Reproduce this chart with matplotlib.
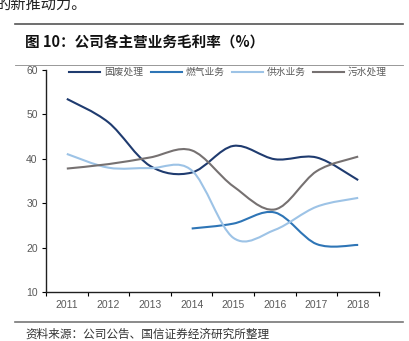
import matplotlib
matplotlib.use('Agg')
import matplotlib.pyplot as plt
from matplotlib.path import Path
from matplotlib.patches import PathPatch
from matplotlib.lines import Line2D

plt.rcParams['font.family'] = ['Liberation Sans', 'Noto Sans CJK SC', 'DejaVu Sans']
CJK = ['Noto Sans CJK SC', 'DejaVu Sans']

years = ['2011', '2012', '2013', '2014', '2015', '2016', '2017', '2018']
solid_waste = [53.5, 48.2, 38.4, 36.9, 42.9, 39.9, 40.3, 35.2]
gas = [None, None, None, 24.3, 25.4, 27.9, 20.8, 20.6]
water_supply = [41.1, 38.0, 37.9, 37.4, 22.2, 24.0, 29.2, 31.2]
sewage = [37.8, 38.8, 40.3, 41.9, 33.8, 28.6, 37.2, 40.5]

series_names = ['固废处理', '燃气业务', '供水业务', '污水处理']
series_values = [solid_waste, gas, water_supply, sewage]
colors = ['#1f3b6f', '#2e75b6', '#9dc3e6', '#767171']


def smooth_path(values):
    # Excel-style smoothed line: cubic bezier through the points
    pts = [(i, v) for i, v in enumerate(values) if v is not None]
    verts = [pts[0]]
    codes = [Path.MOVETO]
    n = len(pts)
    for i in range(n - 1):
        p0 = pts[i - 1] if i > 0 else pts[i]
        p1 = pts[i]
        p2 = pts[i + 1]
        p3 = pts[i + 2] if i + 2 < n else pts[i + 1]
        c1 = (p1[0] + (p2[0] - p0[0]) / 6, p1[1] + (p2[1] - p0[1]) / 6)
        c2 = (p2[0] - (p3[0] - p1[0]) / 6, p2[1] - (p3[1] - p1[1]) / 6)
        verts += [c1, c2, p2]
        codes += [Path.CURVE4] * 3
    return Path(verts, codes)


fig = plt.figure(figsize=(4.10, 3.41), dpi=100)
ax = fig.add_axes([46 / 410, 1 - 292 / 341, 333 / 410, 222 / 341])

for vals, c in zip(series_values, colors):
    ax.add_patch(PathPatch(smooth_path(vals), fill=False, edgecolor=c,
                           linewidth=1.5, capstyle='butt'))

ax.set_xlim(-0.5, len(years) - 0.5)
ax.set_ylim(10, 60)
ax.set_yticks(range(10, 61, 10))
ax.set_xticks([i - 0.5 for i in range(len(years) + 1)])
ax.set_xticklabels([])
ax.set_xticks(range(len(years)), minor=True)
ax.set_xticklabels(years, minor=True)
ax.tick_params(axis='x', which='major', length=3, width=0.8, direction='out')
ax.tick_params(axis='x', which='minor', length=0, pad=6, labelsize=7.5,
               labelcolor='#595959')
ax.tick_params(axis='y', length=3, width=0.8, pad=3, labelsize=7.5,
               labelcolor='#595959')
for s in ['top', 'right']:
    ax.spines[s].set_visible(False)
for s in ['left', 'bottom']:
    ax.spines[s].set_linewidth(1.0)
    ax.spines[s].set_color('#202020')

handles = [Line2D([], [], color=c, linewidth=1.5) for c in colors]
leg = fig.legend(handles, series_names, loc='center', ncol=4,
                 bbox_to_anchor=(228 / 410, 1 - 72 / 341), frameon=False,
                 handlelength=3.2, handletextpad=0.35, columnspacing=0.8,
                 prop={'family': CJK, 'size': 7})
for t in leg.get_texts():
    t.set_color('#595959')

# page decorations
fig.text(-0.01, 1 - 9 / 341, '的新推动力。', family=CJK, fontsize=11,
         color='#222222', va='baseline')
fig.add_artist(Line2D([15 / 410, 403 / 410], [1 - 24 / 341] * 2,
                      color='#555555', linewidth=1.2))
fig.text(25 / 410, 1 - 43 / 341, '图 10：公司各主营业务毛利率（%）', family=CJK,
         fontsize=10.5, fontweight='bold', color='#111111', va='center')
fig.add_artist(Line2D([15 / 410, 403 / 410], [1 - 65 / 341] * 2,
                      color='#888888', linewidth=0.6))
fig.add_artist(Line2D([15 / 410, 403 / 410], [1 - 322 / 341] * 2,
                      color='#777777', linewidth=1.2))
fig.text(25 / 410, 1 - 334 / 341, '资料来源：公司公告、国信证券经济研究所整理',
         family=CJK, fontsize=8.4, color='#333333', va='center')

fig.savefig('out.png', dpi=100)
